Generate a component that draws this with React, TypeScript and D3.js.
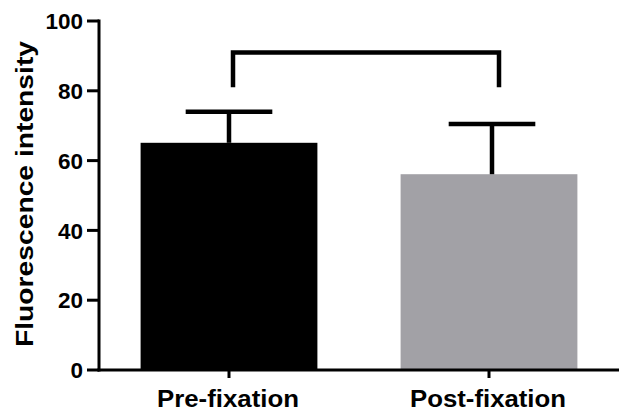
import React from "react";
import * as d3 from "d3";

const categories = ["Pre-fixation", "Post-fixation"];
const means = [65.1, 56.1];
const upperErrors = [74.0, 70.5];
const barColors = ["#000000", "#a2a1a6"];
const yTicks = [0, 20, 40, 60, 80, 100];
const bracketTop = 91;
const bracketBottom = 81;
const yLabel = "Fluorescence intensity";

const W = 628;
const H = 418;

export default function App() {
  const x = d3
    .scaleBand<string>()
    .domain(categories)
    .range([99, 619])
    .paddingInner(0.32)
    .paddingOuter(0.16);
  const y = d3.scaleLinear().domain([0, 100]).range([370, 21]);
  const bw = x.bandwidth();
  const cx = (c: string) => (x(c) as number) + bw / 2;
  const font = "Liberation Sans, Arial, Helvetica, sans-serif";
  const bx1 = cx(categories[0]) + 4;
  const bx2 = cx(categories[1]) + 10;
  const capW = bw * 0.49;
  const labelLens = [142, 156];

  return (
    <svg
      width={W}
      height={H}
      style={{ position: "absolute", left: 0, top: 0, background: "#fff" }}
      fontFamily={font}
    >
      {/* bars */}
      {categories.map((c, i) => (
        <rect
          key={c}
          x={x(c)}
          y={y(means[i])}
          width={bw}
          height={y(0) - y(means[i])}
          fill={barColors[i]}
        />
      ))}
      {/* error bars */}
      {categories.map((c, i) => (
        <g key={c + "e"} stroke="#000" strokeWidth={4.5}>
          <line x1={cx(c) + i * 3} x2={cx(c) + i * 3} y1={y(means[i])} y2={y(upperErrors[i])} />
          <line
            x1={cx(c) + i * 3 - capW / 2}
            x2={cx(c) + i * 3 + capW / 2}
            y1={y(upperErrors[i])}
            y2={y(upperErrors[i])}
          />
        </g>
      ))}
      {/* bracket */}
      <path
        d={`M${bx1},${y(bracketBottom)} V${y(bracketTop)} H${bx2} V${y(bracketBottom)}`}
        fill="none"
        stroke="#000"
        strokeWidth={4.5}
        strokeLinejoin="miter"
      />
      {/* y axis */}
      <line x1={99} x2={99} y1={y(100) - 1.5} y2={y(0) + 1.5} stroke="#000" strokeWidth={3} />
      {yTicks.map((t) => (
        <g key={t}>
          <line x1={87} x2={99} y1={y(t)} y2={y(t)} stroke="#000" strokeWidth={3} />
          <text
            x={83}
            y={y(t)}
            dy="0.36em"
            textAnchor="end"
            fontSize={22.5}
            fontWeight="bold"
            fill="#000"
          >
            {t}
          </text>
        </g>
      ))}
      {/* x axis */}
      <line x1={97.5} x2={619} y1={y(0)} y2={y(0)} stroke="#000" strokeWidth={3} />
      {categories.map((c, i) => (
        <g key={c + "t"}>
          <line x1={cx(c)} x2={cx(c)} y1={y(0)} y2={y(0) + 8} stroke="#000" strokeWidth={3} />
          <text
            x={cx(c) - 1}
            y={406.5}
            textAnchor="middle"
            fontSize={23}
            fontWeight="bold"
            fill="#000"
            textLength={labelLens[i]}
            lengthAdjust="spacingAndGlyphs"
          >
            {c}
          </text>
        </g>
      ))}
      {/* y label */}
      <text
        transform={`translate(33,${194}) rotate(-90)`}
        textAnchor="middle"
        fontSize={24}
        fontWeight="bold"
        fill="#000"
        textLength={306}
        lengthAdjust="spacingAndGlyphs"
      >
        {yLabel}
      </text>
    </svg>
  );
}
